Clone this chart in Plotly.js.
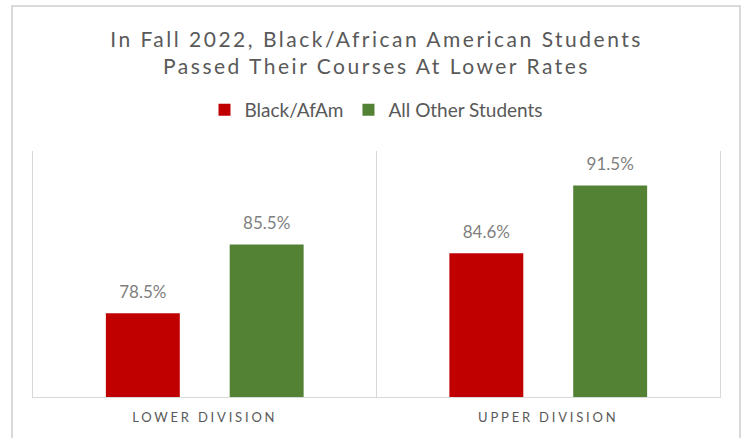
<!DOCTYPE html>
<html>
<head>
<meta charset="utf-8">
<script src="https://cdn.plot.ly/plotly-3.0.1.min.js"></script>
<style>
  html, body { margin: 0; padding: 0; background: #ffffff; }
  #chart { width: 746px; height: 438px; }
  .gtitle { letter-spacing: 2.5px; }
  .xtick text { letter-spacing: 2.8px; }
</style>
</head>
<body>
<div id="chart"></div>
<script>
// ---- data ----
const categories = ['LOWER DIVISION', 'UPPER DIVISION'];
const blackAfAm = [78.5, 84.6];
const allOtherStudents = [85.5, 91.5];
const seriesNames = ['Black/AfAm', 'All Other Students'];
const seriesColors = ['#C00000', '#548235'];
const chartTitle = 'In Fall 2022, Black/African American Students<br>Passed Their Courses At Lower Rates';

const FONT = 'Lato, "Open Sans", "DejaVu Sans", sans-serif';
const seriesValues = [blackAfAm, allOtherStudents];

const barTraces = seriesValues.map((vals, i) => ({
  type: 'bar',
  name: seriesNames[i],
  x: categories,
  y: vals,
  marker: { color: seriesColors[i], line: { width: 0 } },
  hoverinfo: 'skip'
}));

const labelTraces = seriesValues.map((vals, i) => ({
  type: 'scatter',
  mode: 'markers+text',
  x: categories,
  y: vals,
  text: vals.map(v => v.toFixed(1) + '%'),
  textposition: 'top center',
  textfont: { family: FONT, size: 17, color: '#7F7F7F' },
  marker: { size: 16, color: 'rgba(0,0,0,0)' },
  showlegend: false,
  cliponaxis: false,
  hoverinfo: 'skip'
}));

const layout = {
  width: 746,
  height: 438,
  margin: { l: 33, r: 26, t: 151, b: 41 },
  paper_bgcolor: '#ffffff',
  plot_bgcolor: '#ffffff',
  font: { family: FONT, color: '#595959' },
  title: {
    text: chartTitle,
    font: { family: FONT, size: 21, color: '#595959' },
    x: 0.5,
    xref: 'paper',
    xanchor: 'center',
    y: 1 - 47 / 438,
    yanchor: 'top',
    yref: 'container'
  },
  showlegend: true,
  legend: {
    orientation: 'h',
    x: 0.5,
    xanchor: 'center',
    y: 1.167,
    yanchor: 'middle',
    font: { family: FONT, size: 19, color: '#595959' },
    itemwidth: 30,
    bgcolor: 'rgba(0,0,0,0)'
  },
  barmode: 'group',
  bargap: 0.279,
  bargroupgap: 0.403,
  scattermode: 'group',
  scattergap: 0.279,
  xaxis: {
    type: 'category',
    tickson: 'boundaries',
    showgrid: true,
    gridcolor: '#D9D9D9',
    gridwidth: 1,
    showline: true,
    linecolor: '#D9D9D9',
    linewidth: 1,
    ticks: '',
    ticklabelstandoff: 8,
    tickfont: { family: FONT, size: 13, color: '#595959' },
    zeroline: false,
    fixedrange: true
  },
  yaxis: {
    range: [70, 95],
    showticklabels: false,
    showgrid: false,
    zeroline: false,
    showline: true,
    mirror: true,
    linecolor: '#D9D9D9',
    linewidth: 1,
    ticks: '',
    fixedrange: true
  },
  shapes: [{
    type: 'rect',
    xref: 'paper', yref: 'paper',
    x0: (12 - 33) / 687, x1: (740 - 33) / 687,
    y0: (397 - 445) / 246, y1: (397 - 6) / 246,
    line: { color: '#D9D9D9', width: 2 },
    fillcolor: 'rgba(0,0,0,0)',
    layer: 'below'
  }]
};

Plotly.newPlot('chart', barTraces.concat(labelTraces), layout, { displayModeBar: false, staticPlot: true });
</script>
</body>
</html>
